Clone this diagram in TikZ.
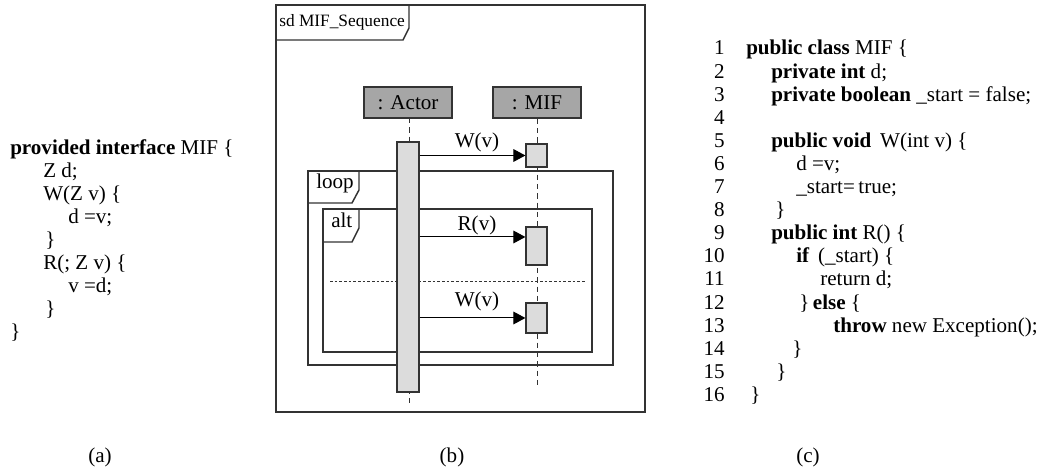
\documentclass[tikz,border=0pt]{standalone}
\usepackage{fontspec}
\setmainfont{Liberation Serif}
\usetikzlibrary{arrows.meta}
\definecolor{ink}{HTML}{333333}
\definecolor{headfill}{HTML}{A6A6A6}
\definecolor{actfill}{HTML}{DCDCDC}
\tikzset{
  txt/.style={anchor=base west, inner sep=0pt, font=\fontsize{15.8}{18}\selectfont},
  num/.style={anchor=base east, inner sep=0pt, font=\fontsize{15.8}{18}\selectfont},
  captxt/.style={anchor=base, inner sep=0pt, font=\fontsize{15.8}{18}\selectfont},
  frameline/.style={draw=ink, line width=1.1pt},
  boxline/.style={draw=ink, line width=0.9pt},
  headbox/.style={boxline, fill=headfill, minimum width=66pt, minimum height=23.25pt, inner sep=0pt, font=\fontsize{15.8}{18}\selectfont},
  lifeline/.style={draw=ink, line width=0.75pt, dash pattern=on 4pt off 3pt},
  act/.style={boxline, fill=actfill},
  msg/.style={draw=black, line width=0.75pt, -{Triangle[length=9pt,width=9.5pt]}},
  msglabel/.style={anchor=base, inner sep=0pt, font=\fontsize{15.8}{18}\selectfont},
}
\begin{document}
\begin{tikzpicture}[x=0.75pt, y=-0.75pt]
\useasboundingbox (0,0) rectangle (1039,473);

% ---------------- (a) interface specification ----------------
\node[txt] (a1) at (10,155) {\textbf{provided interface} MIF \{};
\node[txt] (a2) at (43,178) {Z d;};
\node[txt] (a3) at (43,201) {W(Z v) \{};
\node[txt] (a4) at (68,224) {d =v;};
\node[txt] (a5) at (45,247) {\}};
\node[txt] (a6) at (43,270) {R(; Z v) \{};
\node[txt] (a7) at (68,293) {v =d;};
\node[txt] (a8) at (45,316) {\}};
\node[txt] (a9) at (10,339) {\}};

% ---------------- (b) sequence diagram ----------------
% outer frame and its name tab
\draw[frameline] (276,5) rectangle (645,412);
\draw[frameline] (276,40) -- (403,40) -- (409,28) -- (409,5);
\node[txt, font=\fontsize{13}{16}\selectfont] (sdname) at (279,27) {sd MIF\_Sequence};

% combined fragments (behind the activations)
\draw[frameline] (308,171) rectangle (613,365);
\draw[frameline] (308,203) -- (352,203) -- (359,190) -- (359,171);
\node[txt] (looplbl) at (316,189) {loop};

\draw[frameline] (323,209) rectangle (592,352);
\draw[frameline] (323,242) -- (352,242) -- (359,228) -- (359,209);
\node[txt] (altlbl) at (331,228) {alt};

\draw[ink, line width=0.75pt, dash pattern=on 2pt off 1.5pt] (330,282) -- (586,282);

% lifeline heads
\node[headbox] (actor) at (408,102.5) {: Actor};
\node[headbox] (mif) at (537,102.5) {: MIF};

% lifelines
\coordinate (actorend) at (409,403);
\coordinate (mifend) at (537,388);
\draw[lifeline] (409,118) -- (actorend);
\draw[lifeline] (mif.south) -- (mifend);

% activations
\node[act, minimum width=16.5pt, minimum height=187.5pt, inner sep=0pt] (actact) at (408,267) {};
\node[act, minimum width=15.75pt, minimum height=17.25pt, inner sep=0pt] (m1) at (536.5,155.5) {};
\node[act, minimum width=15.75pt, minimum height=28.5pt, inner sep=0pt] (m2) at (536.5,246) {};
\node[act, minimum width=15.75pt, minimum height=22.5pt, inner sep=0pt] (m3) at (536.5,318) {};

% messages
\draw[msg] (actact.east |- m1.west) -- (m1.west);
\draw[msg] (actact.east |- 0,237) -- (m2.west |- 0,237);
\draw[msg] (actact.east |- m3.west) -- (m3.west);
\node[msglabel] (l1) at (477,148) {W(v)};
\node[msglabel] (l2) at (477,231) {R(v)};
\node[msglabel] (l3) at (477,307) {W(v)};

% ---------------- (c) Java implementation ----------------
\foreach \n in {1,...,16} {
  \node[num] (n\n) at (725,{55+(\n-1)*23.1}) {\n};
}
\node[txt] (c1)  at (746,55)     {\textbf{public class} MIF \{};
\node[txt] (c2)  at (771,78.1)   {\textbf{private int} d;};
\node[txt] (c3)  at (771,101.2)  {\textbf{private boolean} \_start = false;};
\node[txt] (c5)  at (771,147.4)  {\textbf{public void}\, W(int v) \{};
\node[txt] (c6)  at (796,170.5)  {d =v;};
\node[txt] (c7)  at (796,193.6)  {\_start=\,true;};
\node[txt] (c8)  at (775,216.7)  {\}};
\node[txt] (c9)  at (771,239.8)  {\textbf{public int} R() \{};
\node[txt] (c10) at (796,262.9)  {\textbf{if}\, (\_start) \{};
\node[txt] (c11) at (820,286)    {return d;};
\node[txt] (c12) at (799,309.1)  {\}\,\textbf{else} \{};
\node[txt] (c13) at (833,332.2)  {\textbf{throw} new Exception();};
\node[txt] (c14) at (792,355.3)  {\}};
\node[txt] (c15) at (776,378.4)  {\}};
\node[txt] (c16) at (750,401.5)  {\}};

% ---------------- captions ----------------
\node[captxt] (capa) at (100,463) {(a)};
\node[captxt] (capb) at (452,463) {(b)};
\node[captxt] (capc) at (808,463) {(c)};
\end{tikzpicture}
\end{document}
